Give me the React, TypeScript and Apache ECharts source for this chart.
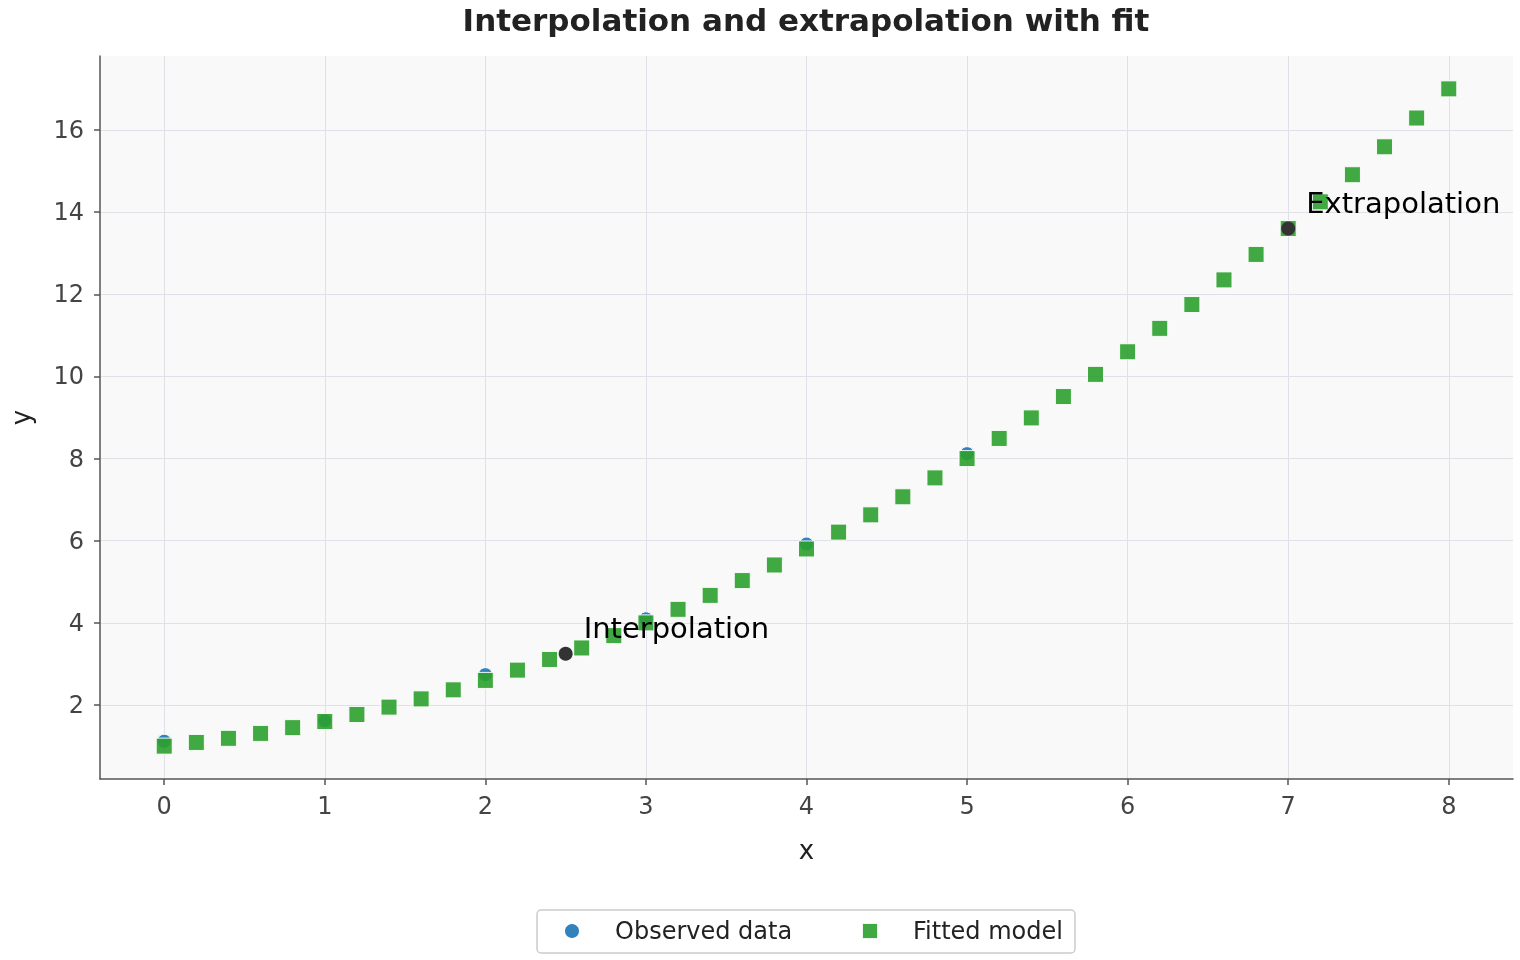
import React, { useEffect, useRef } from "react";
import * as echarts from "echarts";

const xTicks = [0, 1, 2, 3, 4, 5, 6, 7, 8];
const yTicks = [2, 4, 6, 8, 10, 12, 14, 16];

const observedX = [0, 1, 2, 3, 4, 5];
const observedY = [1.12, 1.62, 2.74, 4.1, 5.92, 8.12];

const fitX = [
  0, 0.2, 0.4, 0.6, 0.8, 1, 1.2, 1.4, 1.6, 1.8, 2, 2.2, 2.4, 2.6, 2.8, 3, 3.2, 3.4, 3.6, 3.8, 4,
  4.2, 4.4, 4.6, 4.8, 5, 5.2, 5.4, 5.6, 5.8, 6, 6.2, 6.4, 6.6, 6.8, 7, 7.2, 7.4, 7.6, 7.8, 8,
];
const fitY = [
  1.0, 1.09, 1.19, 1.31, 1.45, 1.6, 1.77, 1.95, 2.15, 2.37, 2.6, 2.85, 3.11, 3.39, 3.69, 4.0,
  4.33, 4.67, 5.03, 5.41, 5.8, 6.21, 6.63, 7.07, 7.53, 8.0, 8.49, 8.99, 9.51, 10.05, 10.6, 11.17,
  11.75, 12.35, 12.97, 13.6, 14.25, 14.91, 15.59, 16.29, 17.0,
];

const annotX = [2.5, 7];
const annotY = [3.25, 13.6];
const annotLabels = ["Interpolation", "Extrapolation"];

const FONT = "DejaVu Sans";

export default function App() {
  const ref = useRef<HTMLDivElement>(null);
  useEffect(() => {
    if (!ref.current) return;
    const chart = echarts.init(ref.current, undefined, { renderer: "svg" });
    const axisCommon = {
      axisLine: { show: true, onZero: false, lineStyle: { color: "#555", width: 1.5 } },
      axisTick: { show: true, inside: false, length: 6, lineStyle: { color: "#555", width: 1.5 } },
      splitLine: { show: true, lineStyle: { color: "#e0e0e8", width: 1 } },
      nameTextStyle: { fontFamily: FONT, fontSize: 26, color: "#222" },
    };
    const legendText = {
      fontFamily: FONT,
      fontSize: 24,
      color: "#222",
      lineHeight: 28,
      padding: [0, 0, 0, 30],
    };
    chart.setOption({
      animation: false,
      textStyle: { fontFamily: FONT },
      grid: {
        left: 99,
        right: 7,
        top: 56,
        bottom: 181,
        show: true,
        backgroundColor: "#f9f9f9",
        borderWidth: 0,
      },
      graphic: [
        {
          type: "text",
          x: 806,
          y: 20,
          style: {
            text: "Interpolation and extrapolation with fit",
            fill: "#222",
            font: `bold 31px "${FONT}"`,
            textAlign: "center",
            textVerticalAlign: "middle",
          },
        },
        {
          type: "rect",
          shape: { x: 537, y: 910, width: 538, height: 43, r: 4 },
          style: { fill: "#fff", stroke: "#ccc", lineWidth: 1.5 },
          z: -1,
        },
      ],
      xAxis: {
        type: "value",
        min: -0.4,
        max: 8.4,
        name: "x",
        nameLocation: "middle",
        nameGap: 58,
        ...axisCommon,
        axisTick: { ...axisCommon.axisTick, customValues: xTicks },
        axisLabel: {
          customValues: xTicks,
          fontFamily: FONT,
          fontSize: 24,
          color: "#444",
          margin: 15,
        },
      },
      yAxis: {
        type: "value",
        min: 0.2,
        max: 17.8,
        name: "y",
        nameLocation: "middle",
        nameGap: 66,
        ...axisCommon,
        axisTick: { ...axisCommon.axisTick, customValues: yTicks },
        axisLabel: {
          customValues: yTicks,
          fontFamily: FONT,
          fontSize: 24,
          color: "#444",
          margin: 16,
        },
      },
      legend: [
        {
          data: [{ name: "Observed data", icon: "circle" }],
          left: 563,
          top: 917,
          padding: 0,
          itemWidth: 16,
          itemHeight: 16,
          textStyle: legendText,
        },
        {
          data: [{ name: "Fitted model", icon: "rect" }],
          left: 861,
          top: 917,
          padding: 0,
          itemWidth: 16,
          itemHeight: 16,
          textStyle: legendText,
        },
      ],
      series: [
        {
          name: "Observed data",
          type: "scatter",
          symbol: "circle",
          symbolSize: 14,
          itemStyle: { color: "#3182bd", opacity: 1, borderColor: "#fff", borderWidth: 1 },
          data: observedX.map((x, i) => [x, observedY[i]]),
          z: 2,
        },
        {
          name: "Fitted model",
          type: "scatter",
          symbol: "rect",
          symbolSize: 16,
          itemStyle: { color: "#2ca02c", opacity: 0.9, borderColor: "#fff", borderWidth: 1 },
          data: fitX.map((x, i) => [x, fitY[i]]),
          z: 3,
        },
        {
          name: "Annotations",
          type: "scatter",
          symbol: "circle",
          symbolSize: 14,
          itemStyle: { color: "#333", opacity: 1 },
          data: annotX.map((x, i) => [x, annotY[i]]),
          z: 4,
          label: {
            show: true,
            formatter: (p: any) => annotLabels[p.dataIndex],
            position: [25, -19],
            align: "left",
            verticalAlign: "middle",
            fontFamily: FONT,
            fontSize: 29,
            color: "#000",
          },
        },
      ],
    });
    return () => chart.dispose();
  }, []);
  return (
    <div
      ref={ref}
      style={{ position: "fixed", left: 0, top: 0, width: 1520, height: 960 }}
    />
  );
}
